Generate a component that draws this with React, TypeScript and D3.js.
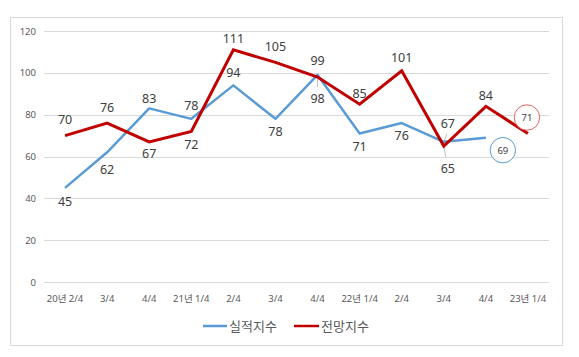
import React from "react";
import * as d3 from "d3";

const categories = ["20년 2/4", "3/4", "4/4", "21년 1/4", "2/4", "3/4", "4/4", "22년 1/4", "2/4", "3/4", "4/4", "23년 1/4"];
const actual = [45, 62, 83, 78, 94, 78, 99, 71, 76, 67, 69];
const outlook = [70, 76, 67, 72, 111, 105, 98, 85, 101, 65, 84, 71];
const yTicks = [0, 20, 40, 60, 80, 100, 120];
// label placement (vertical offsets in px from point)
const actualLabelDy = [14, 17, -10, -13, -13, 13, -14, 13, 12, -18, 0];
const outlookLabelDy = [-16, -16, 12, 13, -11, -16, 21, -11, -13, 22, -11, 0];

const W = 579;
const H = 357;
const FONT = "'Noto Sans', 'Noto Sans CJK KR', sans-serif";

export default function App() {
  const x = d3.scaleBand<string>().domain(categories.map((_, i) => String(i))).range([44, 549]);
  const y = d3.scaleLinear().domain([0, 120]).range([282, 31]);
  const cx = (i: number) => (x(String(i)) as number) + x.bandwidth() / 2;
  const line = d3.line<number>().x((_, i) => cx(i)).y((d) => y(d));

  const blue = "#5B9BD5";
  const red = "#C00000";
  const lab = "#404040";

  const lastA = actual.length - 1;
  const lastO = outlook.length - 1;

  return (
    <svg width={W} height={H} style={{ position: "absolute", left: 0, top: 0, fontFamily: FONT }}>
      <rect x={0} y={0} width={W} height={H} fill="#fff" />
      <rect x={10.5} y={17.5} width={552} height={328} fill="#fff" stroke="#d9d9d9" strokeWidth={1} />
      {yTicks.map((t) => (
        <g key={t}>
          <line x1={44} x2={549} y1={Math.round(y(t)) + 0.5} y2={Math.round(y(t)) + 0.5} stroke="#d9d9d9" strokeWidth={1} />
          <text x={36} y={y(t) + 3.5} textAnchor="end" fontSize={9.5} fill="#595959">{t}</text>
        </g>
      ))}
      {categories.map((c, i) => (
        <text key={i} x={cx(i)} y={302} textAnchor="middle" fontSize={9.5} fill="#595959">{c}</text>
      ))}
      {/* leader lines */}
      <line x1={cx(6)} y1={y(98) + 1} x2={cx(6)} y2={y(98) + 10} stroke="#bfbfbf" strokeWidth={1} />
      <line x1={cx(9) + 3} y1={y(67) - 8} x2={cx(9)} y2={y(67)} stroke="#bfbfbf" strokeWidth={1} />
      <line x1={cx(9)} y1={y(65)} x2={cx(9) + 2} y2={y(65) + 11} stroke="#bfbfbf" strokeWidth={1} />

      <path d={line(actual) as string} fill="none" stroke={blue} strokeWidth={2.5} strokeLinejoin="round" />
      <path d={line(outlook) as string} fill="none" stroke={red} strokeWidth={3} strokeLinejoin="miter" />

      {actual.map((v, i) =>
        i === lastA ? null : (
          <text key={"a" + i} x={cx(i) + (i === 9 ? 4 : 0)} y={y(v) + actualLabelDy[i] + 4.5} textAnchor="middle" fontSize={12.5} fill={lab}>{v}</text>
        )
      )}
      {outlook.map((v, i) =>
        i === lastO ? null : (
          <text key={"o" + i} x={cx(i) + (i === 9 ? 4 : 0)} y={y(v) + outlookLabelDy[i] + 4.5} textAnchor="middle" fontSize={12.5} fill={lab}>{v}</text>
        )
      )}
      {/* circled last values */}
      <g>
        <circle cx={cx(lastA) + 17} cy={y(actual[lastA]) + 12.5} r={12.7} fill="#fff" stroke={blue} strokeWidth={1} />
        <text x={cx(lastA) + 17} y={y(actual[lastA]) + 16} textAnchor="middle" fontSize={9.5} fill={lab}>{actual[lastA]}</text>
      </g>
      <g>
        <circle cx={cx(lastO) - 1} cy={y(outlook[lastO]) - 16} r={12.7} fill="#fff" stroke="#E06666" strokeWidth={1} />
        <text x={cx(lastO) - 1} y={y(outlook[lastO]) - 12.5} textAnchor="middle" fontSize={9.5} fill={lab}>{outlook[lastO]}</text>
      </g>

      {/* legend */}
      <line x1={203} x2={227} y1={326} y2={326} stroke={blue} strokeWidth={2.5} />
      <text x={229} y={331} fontSize={13} fill="#595959">실적지수</text>
      <line x1={294} x2={319} y1={326} y2={326} stroke={red} strokeWidth={2.5} />
      <text x={321} y={331} fontSize={13} fill="#595959">전망지수</text>
    </svg>
  );
}
